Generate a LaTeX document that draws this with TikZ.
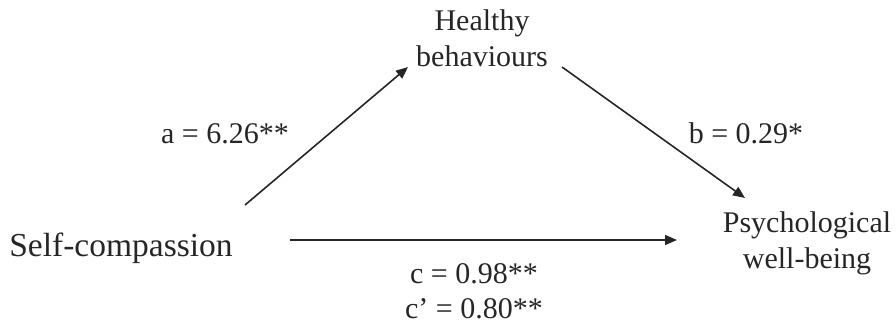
\documentclass[tikz,border=0pt]{standalone}
\usepackage{fontspec}
\setmainfont{Liberation Serif}
\usetikzlibrary{arrows.meta}
\begin{document}
\begin{tikzpicture}[x=1pt,y=-1pt,
  lbl/.style={font=\fontsize{30}{36}\selectfont, inner sep=0pt, anchor=base, text=black!85},
  box/.style={font=\fontsize{30}{36}\selectfont, inner sep=0pt, align=center, text=black!85},
  conn/.style={line width=1.6pt, draw=black!85, -{Triangle[length=12pt,width=10pt]}}]
\useasboundingbox (0,0) rectangle (896,324);
% variable nodes (base anchor = baseline of last line)
\node[box, anchor=base] (hb) at (482,66) {Healthy\\behaviours};
\node[lbl, font=\fontsize{33.5}{36}\selectfont] (sc) at (121,256) {Self-compassion};
\node[box, anchor=base] (pw) at (807,268) {Psychological\\well-being};
% connector end points
\coordinate (a1) at (245,205);
\coordinate (a2) at (408,67);
\coordinate (b1) at (562,67);
\coordinate (b2) at (745,198);
\coordinate (c1) at (290,240);
\coordinate (c2) at (677,240);
\draw[conn] (a1) -- (a2);
\draw[conn] (b1) -- (b2);
\draw[conn] (c1) -- (c2);
% path labels
\node[lbl] (la) at (225,143) {a = 6.26**};
\node[lbl] (lb) at (746,143) {b = 0.29*};
\node[lbl] (lc) at (474,283) {c = 0.98**};
\node[lbl] (lc2) at (474,318) {c’ = 0.80**};
\end{tikzpicture}
\end{document}
